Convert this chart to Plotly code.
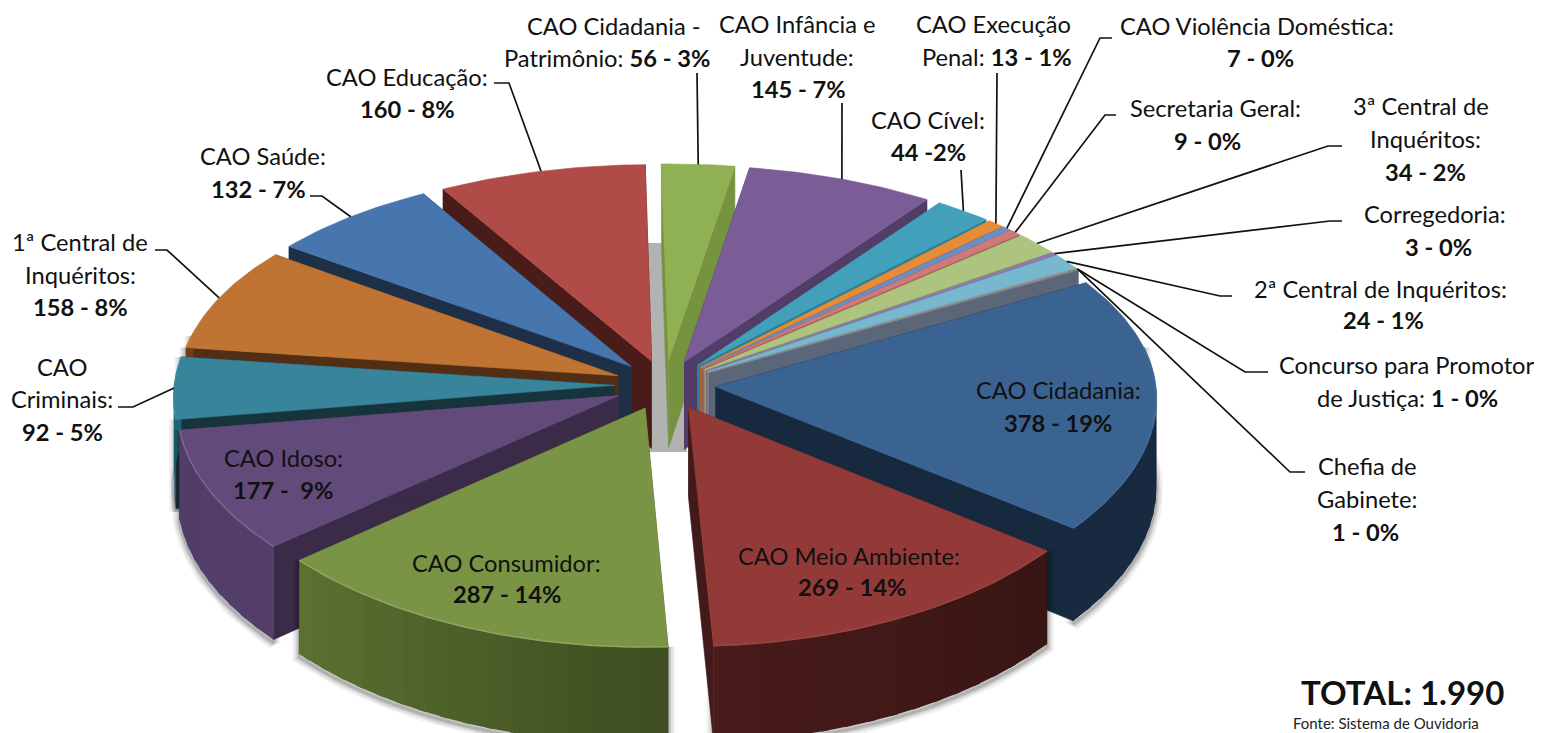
import numpy as np
import plotly.graph_objects as go

# ---- data -------------------------------------------------------------
names = ["CAO Cidadania", "CAO Meio Ambiente", "CAO Consumidor", "CAO Idoso", "CAO Criminais",
         "1ª Central de Inquéritos", "CAO Saúde", "CAO Educação", "CAO Cidadania - Patrimônio",
         "CAO Infância e Juventude", "CAO Cível", "CAO Execução Penal", "CAO Violência Doméstica",
         "Secretaria Geral", "3ª Central de Inquéritos", "Corregedoria", "2ª Central de Inquéritos",
         "Concurso para Promotor de Justiça", "Chefia de Gabinete"]
values = [378, 269, 287, 177, 92, 158, 132, 160, 56, 145, 44, 13, 7, 9, 34, 3, 24, 1, 1]
top_colors = ["#3a6391", "#933a38", "#7a9445", "#624b7a", "#37849b", "#c07433", "#4775ae", "#b14b48",
              "#90b054", "#7a5c96", "#43a0bb", "#e68c38", "#6d8ec4", "#cd7b79", "#acc47e", "#947cb0",
              "#78b8cf", "#f0b07c", "#8a94a8"]
radial_colors = ["#17293f", "#421a19", "#48592a", "#3a2b49", "#17343d", "#522e14", "#1e3048", "#4a1c19",
                 "#76933f", "#523d68", "#2a7f98", "#b96c24", "#4f6d9e", "#a95e5c", "#8aa25e", "#75609a",
                 "#5c98ad", "#c98a58", "#5b6679"]
# outer wall colour at the clockwise start and end of each slice
wall_start = ["#182a3f", "#381614", "#3f4f22", "#543f6a", "#1e6377", "#6b3f17", "#25405f", "#5a2422",
              "#5e7a30", "#523d68", "#2a7f98", "#b96c24", "#4f6d9e", "#a95e5c", "#8aa25e", "#75609a",
              "#5c98ad", "#c98a58", "#5b6679"]
wall_end = ["#182a3f", "#4a1c1b", "#5e7331", "#513d66", "#1e6377", "#6b3f17", "#25405f", "#5a2422",
            "#5e7a30", "#523d68", "#2a7f98", "#b96c24", "#4f6d9e", "#a95e5c", "#8aa25e", "#75609a",
            "#5c98ad", "#c98a58", "#5b6679"]

# label lines: (text, x, y)
label_lines = [
    ("CAO Cidadania -", 614, 26), ("Patrimônio: <b>56 - 3%</b>", 607, 58),
    ("CAO Infância e", 797, 24), ("Juventude:", 797, 57), ("<b>145 - 7%</b>", 798, 89),
    ("CAO Execução", 993, 24), ("Penal: <b>13 - 1%</b>", 997, 57),
    ("CAO Violência Doméstica:", 1257, 26), ("<b>7 - 0%</b>", 1260, 58),
    ("Secretaria Geral:", 1215, 108), ("<b>9 - 0%</b>", 1207, 141),
    ("3ª Central de", 1421, 106), ("Inquéritos:", 1425, 139), ("<b>34 - 2%</b>", 1425, 172),
    ("Corregedoria:", 1435, 214), ("<b>3 - 0%</b>", 1438, 247),
    ("2ª Central de Inquéritos:", 1380, 289), ("<b>24 - 1%</b>", 1383, 320),
    ("Concurso para Promotor", 1407, 365), ("de Justiça: <b>1 - 0%</b>", 1407, 398),
    ("Chefia de", 1367, 466), ("Gabinete:", 1367, 499), ("<b>1 - 0%</b>", 1365, 532),
    ("CAO Cidadania:", 1058, 390), ("<b>378 - 19%</b>", 1058, 423),
    ("CAO Meio Ambiente:", 849, 556), ("<b>269 - 14%</b>", 852, 587),
    ("CAO Consumidor:", 506, 563), ("<b>287 - 14%</b>", 507, 594),
    ("CAO Idoso:", 283, 458), ("<b>177 -  9%</b>", 283, 490),
    ("CAO", 62, 367), ("Criminais:", 62, 399), ("<b>92 - 5%</b>", 62, 432),
    ("1ª Central de", 80, 242), ("Inquéritos:", 80, 275), ("<b>158 - 8%</b>", 80, 307),
    ("CAO Saúde:", 263, 156), ("<b>132 - 7%</b>", 258, 189),
    ("CAO Educação:", 407, 77), ("<b>160 - 8%</b>", 407, 109),
    ("CAO Cível:", 928, 120), ("<b>44 -2%</b>", 928, 152),
]
# leader elbows per slice index (label side first); the slice end is computed
leaders = {
    7: [(494, 83), (509, 83)], 8: [(697, 73)], 9: [(842, 103)], 10: [(961, 170)],
    11: [(997, 73)], 12: [(1112, 38), (1100, 38)], 13: [(1116, 115), (1105, 115)],
    14: [(1342, 146), (1328, 146)], 15: [(1342, 221), (1330, 221)],
    16: [(1232, 296), (1220, 296)], 17: [(1268, 372), (1245, 372)],
    18: [(1305, 472), (1290, 472)], 6: [(310, 196), (322, 196)],
    5: [(155, 250), (167, 250)], 4: [(118, 407), (133, 407)],
}

# ---- projection ---------------------------------------------------------
CX, CY, AX, AY, PX, PY, EXPL, THICK, START = 665, 385, 440, 216, 0.05, 0.08, 0.115, 88, 30


def project(u, v, drop=0.0):
    dy = 1 + PY * v
    return CX + AX * u / (1 + PX * v), CY - AY * v / dy + drop / dy


def rgb(hex_color):
    return np.array([int(hex_color[i:i + 2], 16) for i in (1, 3, 5)], dtype=float)


def mix(c0, c1, t):
    return "rgb(%d,%d,%d)" % tuple((rgb(c0) * (1 - t) + rgb(c1) * t).astype(int))


fig = go.Figure()


def poly(xs, ys, color, width=0.6):
    fig.add_trace(go.Scatter(x=list(xs), y=list(ys), mode="lines", fill="toself", fillcolor=color,
                             line=dict(color=color, width=width), hoverinfo="skip", showlegend=False))


def stroke(xs, ys, color, width):
    fig.add_trace(go.Scatter(x=list(xs), y=list(ys), mode="lines", line=dict(color=color, width=width),
                             hoverinfo="skip", showlegend=False))


total = sum(values)
cum = np.cumsum([0] + values)
slices = []
for i, val in enumerate(values):
    a0 = np.radians(START - cum[i] / total * 360)
    a1 = np.radians(START - cum[i + 1] / total * 360)
    slices.append((i, a0, a1, (a0 + a1) / 2))

# shadow seen through the gaps between the slices
sx, sy = project(0, 0)
poly([sx - 17, sx + 22, sx + 22, sx - 17], [sy - 142, sy - 142, sy + 67, sy + 67], "#b2b2b2", 0)

anchors = {}
for i, a0, a1, mid in sorted(slices, key=lambda s: -np.sin(s[3])):
    ou, ov = EXPL * np.cos(mid), EXPL * np.sin(mid)
    n = max(3, int(abs(a1 - a0) / np.radians(1.0)))
    th = np.linspace(a0, a1, n)
    us, vs = ou + np.cos(th), ov + np.sin(th)
    tx, ty = project(us, vs)
    bx, by = project(us, vs, THICK)
    ax_, ay_ = project(ou, ov)
    abx, aby = project(ou, ov, THICK)
    front = np.where(np.sin(th) < 0.2)[0]
    # blurred contact shadow under the outer wall
    if len(front) > 2:
        sxs = [tx[front[0]]] + list(bx[front]) + [tx[front[-1]]]
        sys_ = [ty[front[0]]] + list(by[front] + 3) + [ty[front[-1]]]
        for w, alpha in ((14, 0.05), (10, 0.07), (6, 0.10), (3, 0.12)):
            stroke(sxs, sys_, "rgba(0,0,0,%.2f)" % alpha, w)
    # radial walls
    poly([ax_, tx[0], bx[0], abx], [ay_, ty[0], by[0], aby], radial_colors[i])
    poly([ax_, tx[-1], bx[-1], abx], [ay_, ty[-1], by[-1], aby], radial_colors[i])
    # curved outer wall, in overlapping strips for the gradient
    step = 3
    for k in range(0, n - 1, step):
        e = min(k + step + 1, n - 1)
        if np.sin((th[k] + th[e]) / 2) > 0.2:
            continue
        c = mix(wall_start[i], wall_end[i], k / max(1, n - 1))
        poly(list(tx[k:e + 1]) + list(bx[k:e + 1][::-1]), list(ty[k:e + 1]) + list(by[k:e + 1][::-1]), c, 0)
    # top face
    poly([ax_] + list(tx) + [ax_], [ay_] + list(ty) + [ay_], top_colors[i])
    # light rim on the front edge
    if len(front) > 2:
        c = mix(top_colors[i], "#ffffff", 0.16 if i in (2, 3) else 0.06)
        stroke(tx[front], ty[front], c, 1.5)
    anchors[i] = project(ou + np.cos(mid), ov + np.sin(mid))

# leader lines
for i, elbow in leaders.items():
    ex, ey = anchors[i]
    xs = [p[0] for p in elbow] + [ex]
    ys = [p[1] for p in elbow] + [ey]
    stroke(xs, ys, "#111111", 1.7)

FONT = "Lato"
ann = [dict(x=x, y=y, text=t, showarrow=False, xanchor="center", yanchor="middle",
            font=dict(family=FONT, size=23.7, color="#111111")) for t, x, y in label_lines]
ann.append(dict(x=1402, y=692, text="<b>TOTAL: 1.990</b>", showarrow=False, xanchor="center", yanchor="middle",
                font=dict(family=FONT, size=33, color="#111111")))
ann.append(dict(x=1386, y=723, text="Fonte: Sistema de Ouvidoria", showarrow=False,
                xanchor="center", yanchor="middle", font=dict(family=FONT, size=15, color="#222222")))

fig.update_layout(
    width=1545, height=733, margin=dict(l=0, r=0, t=0, b=0),
    paper_bgcolor="white", plot_bgcolor="white", showlegend=False, annotations=ann,
    xaxis=dict(range=[0, 1545], visible=False, fixedrange=True),
    yaxis=dict(range=[733, 0], visible=False, fixedrange=True),
)
fig.write_html("out.html", config=dict(displayModeBar=False),
               post_script="document.body.style.margin='0';document.body.style.overflow='hidden';")
